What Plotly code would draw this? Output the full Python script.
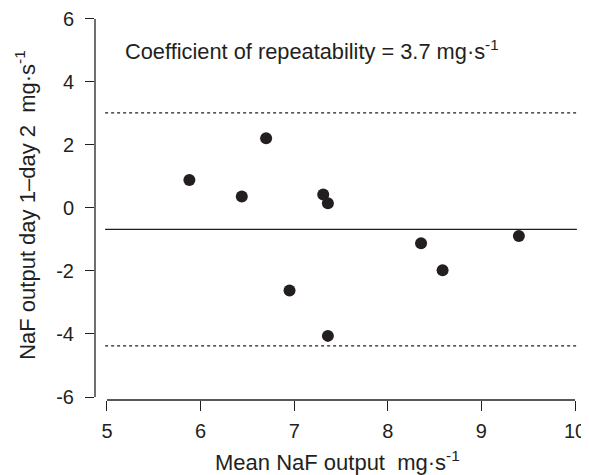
import plotly.graph_objects as go

mean_output = [5.88, 6.44, 6.70, 6.95, 7.31, 7.36, 7.36, 8.355, 8.585, 9.40]
difference = [0.89, 0.36, 2.21, -2.62, 0.43, 0.15, -4.06, -1.12, -1.98, -0.89]
mean_diff = -0.68
coef_rep = 3.7
x_ticks = [5, 6, 7, 8, 9, 10]
y_ticks = [-6, -4, -2, 0, 2, 4, 6]

FONT = "Liberation Sans, Arial, sans-serif"
INK = "#231f20"

fig = go.Figure()
fig.add_trace(go.Scatter(
    x=mean_output, y=difference, mode="markers",
    marker=dict(size=12, color=INK, line=dict(width=0)),
    showlegend=False, hoverinfo="skip"))

# mean and limits of agreement
for yv, dash in [(mean_diff, "solid"), (mean_diff + coef_rep, "dot"), (mean_diff - coef_rep, "dot")]:
    fig.add_shape(type="line", xref="x", yref="y", x0=4.98, x1=10.02, y0=yv, y1=yv,
                  line=dict(color=INK, width=1.2, dash=dash))

# detached axis lines
fig.add_shape(type="line", xref="paper", yref="y", x0=0, x1=0, y0=-6, y1=6,
              line=dict(color=INK, width=1.3))
fig.add_shape(type="line", xref="x", yref="paper", x0=5, x1=10, y0=0, y1=0,
              line=dict(color=INK, width=1.3))

fig.add_annotation(xref="x", yref="y", x=5.17, y=5.0, xanchor="left", yanchor="middle",
                   text="Coefficient of repeatability = 3.7 mg·s<sup>-1</sup>",
                   showarrow=False, font=dict(family=FONT, size=21.8, color=INK))
fig.add_annotation(xref="paper", yref="paper", x=0.5, y=-0.158, xanchor="center", yanchor="middle",
                   text="Mean NaF output  mg·s<sup>-1</sup>",
                   showarrow=False, font=dict(family=FONT, size=22, color=INK))
fig.add_annotation(xref="paper", yref="paper", x=-0.144, y=0.51, xanchor="center", yanchor="middle",
                   text="NaF output day 1–day 2  mg·s<sup>-1</sup>", textangle=-90,
                   showarrow=False, font=dict(family=FONT, size=22, color=INK))

fig.update_xaxes(range=[4.872, 10.053], tickvals=x_ticks, ticktext=[str(v) for v in x_ticks],
                 ticks="outside", ticklen=10, tickwidth=1.3, tickcolor=INK,
                 showgrid=False, zeroline=False, showline=False, automargin=False,
                 ticklabelstandoff=3, ticklabeloverflow="allow",
                 tickfont=dict(family=FONT, size=20, color=INK))
fig.update_yaxes(range=[-6.095, 6.06], tickvals=y_ticks, ticktext=[str(v) for v in y_ticks],
                 ticks="outside", ticklen=9, tickwidth=1.3, tickcolor=INK,
                 showgrid=False, zeroline=False, showline=False, automargin=False,
                 ticklabelstandoff=7, ticklabeloverflow="allow",
                 tickfont=dict(family=FONT, size=20, color=INK))
# the page body adds an 8 px offset, so the figure is sized to fit the 589x475 window
fig.update_layout(width=581, height=467, margin=dict(l=87, r=9, t=9, b=75),
                  plot_bgcolor="white", paper_bgcolor="white")
fig.write_html("out.html")
